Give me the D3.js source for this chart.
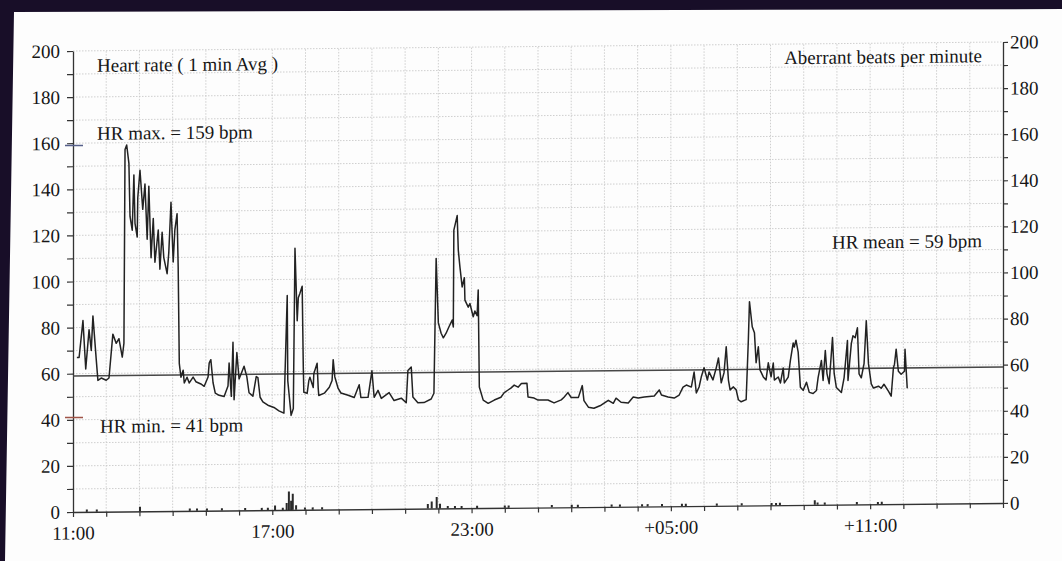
<!DOCTYPE html>
<html>
<head>
<meta charset="utf-8">
<script src="https://cdn.jsdelivr.net/npm/d3@7"></script>
<style>
  body { margin: 0; background: #fdfdfd; }
  svg { display: block; }
  text { font-family: "Liberation Serif", "Times New Roman", serif; fill: #161616; }
</style>
</head>
<body>
<svg id="chart" width="1062" height="561"></svg>
<script>
// Heart rate, 1-minute averages: minutes after 11:00 and bpm
const hrMinutes = [
  7, 11, 18, 23, 29, 33, 36, 42, 45, 51,
  60, 65, 72, 78, 83, 89, 92, 94, 97, 101,
  103, 107, 110, 112, 116, 117, 121, 126, 130, 134,
  137, 141, 145, 148, 154, 157, 161, 164, 170, 173,
  177, 181, 184, 188, 190, 192, 195, 199, 201, 206,
  210, 217, 222, 231, 237, 244, 246, 249, 253, 257,
  264, 273, 280, 282, 286, 289, 291, 296, 300, 305,
  309, 314, 318, 325, 331, 334, 338, 343, 352, 363,
  372, 381, 387, 388, 394, 398, 401, 405, 407, 410,
  414, 416, 417, 423, 426, 428, 434, 435, 441, 443,
  444, 454, 463, 468, 470, 473, 479, 484, 497, 508,
  517, 520, 533, 540, 544, 551, 557, 571, 580, 593,
  602, 605, 611, 614, 623, 634, 647, 652, 656, 660,
  665, 669, 674, 679, 685, 687, 688, 694, 696, 699,
  703, 707, 708, 714, 717, 723, 726, 730, 732, 734,
  741, 750, 761, 773, 779, 786, 791, 797, 804, 810,
  820, 822, 833, 840, 858, 869, 882, 887, 894, 900,
  913, 920, 923, 931, 941, 954, 967, 976, 981, 990,
  1003, 1012, 1021, 1032, 1050, 1059, 1063, 1075, 1086, 1095,
  1102, 1108, 1117, 1122, 1126, 1131, 1135, 1140, 1146, 1149,
  1156, 1162, 1166, 1171, 1176, 1180, 1184, 1187, 1193, 1198,
  1202, 1207, 1216, 1220, 1222, 1227, 1231, 1234, 1238, 1241,
  1247, 1252, 1256, 1261, 1265, 1267, 1274, 1278, 1283, 1285,
  1292, 1296, 1301, 1303, 1306, 1310, 1314, 1319, 1325, 1330,
  1337, 1343, 1346, 1352, 1355, 1359, 1362, 1366, 1372, 1375,
  1379, 1388, 1393, 1399, 1400, 1406, 1409, 1413, 1417, 1420,
  1424, 1429, 1433, 1437, 1442, 1446, 1455, 1460, 1465, 1473,
  1478, 1482, 1484, 1487, 1491, 1496, 1502, 1503, 1507
];
const hrValues = [
  67, 67, 83, 62, 79, 70, 85, 66, 57, 58,
  57, 58, 77, 73, 75, 67, 73, 157, 159, 151,
  128, 122, 146, 125, 119, 136, 148, 131, 142, 118,
  141, 110, 127, 108, 122, 105, 121, 110, 103, 112,
  134, 108, 122, 129, 106, 64, 58, 61, 55.5, 58,
  55.5, 58, 56, 55, 54, 58, 64, 65.5, 55.5, 51,
  50, 49.5, 54, 64, 49.5, 73, 48, 68.5, 57, 60,
  62.5, 58, 51, 49.5, 58, 57.5, 49, 47, 45.5, 44.5,
  43, 42, 93, 56, 41, 44, 113.5, 82, 92, 94,
  97, 62, 51, 50.5, 56, 57.5, 53, 59, 63.5, 52.5,
  49.5, 50.5, 53, 56, 65, 57.5, 52.5, 50.5, 49.5, 48.5,
  54, 48.5, 48.5, 60, 48.5, 51.5, 48, 50.5, 47, 48,
  46, 60, 61.5, 48.5, 46, 46, 47.5, 50, 108.5, 80.5,
  76, 74, 76, 78.7, 81.7, 78.7, 120.7, 127, 112, 104.6,
  96, 100, 90.3, 87.2, 88.8, 83, 85.5, 83.5, 94.6, 52.5,
  46.8, 45.4, 46.8, 48, 50, 51.1, 51.9, 53.2, 52.3, 53.9,
  54, 48, 47.5, 46.6, 46.6, 45.3, 46.6, 47.7, 49.7, 47.6,
  47.6, 52.7, 46.2, 43.3, 42.8, 44.1, 46.2, 44.9, 47.1, 45.3,
  45, 47.5, 47.1, 47.5, 47.9, 50.5, 48.3, 47.4, 46.9, 48.2,
  51.6, 52.5, 51.6, 58.1, 49, 51.6, 56, 59.9, 54.6, 58.1,
  54.6, 59.8, 64.1, 53.3, 57.6, 68.9, 54.5, 50.2, 51.5, 50.2,
  45.9, 45, 45.9, 71.9, 88.4, 77.5, 74.9, 61.9, 68.8, 58.8,
  55.7, 54.4, 61.8, 55.7, 61.7, 54.3, 55.6, 53, 59.5, 53,
  55.5, 62.9, 70.3, 68.5, 71.5, 66.3, 51.1, 49.7, 53.2, 48.8,
  48.3, 49.6, 55.2, 62.6, 53.9, 66.9, 56.9, 52.5, 72.5, 56.9,
  50.8, 48.6, 55.1, 71.1, 53.8, 69.8, 73.2, 72.3, 76.6, 56.6,
  54.9, 61, 79.6, 60.9, 52.2, 50.4, 51.2, 50.3, 52, 49,
  46.8, 59, 60.7, 67.2, 57.6, 56.3, 57.6, 67.1, 50.2
];

// Aberrant beats: minutes after 11:00 and beats in that minute
const abMinutes = [25, 43, 121, 211, 224, 242, 269, 311, 341, 352,
  365, 379, 386, 390, 394, 397, 403, 419, 433, 450,
  641, 648, 657, 663, 677, 690, 702, 730, 780, 787,
  865, 901, 912, 973, 988, 1028, 1038, 1064, 1100, 1107,
  1163, 1208, 1262, 1270, 1277, 1340, 1345, 1358, 1416, 1454, 1461];
const abCounts = [1, 1, 2, 1, 1, 1, 1, 1, 1, 1,
  2, 1, 3, 8, 4, 7, 2, 1, 1, 1,
  2, 3, 5, 2, 1, 1, 1, 1, 1, 1,
  1, 1, 1, 1, 1, 1, 1, 1, 1, 1,
  1, 1, 1, 1, 1, 2, 1, 1, 1, 1, 1];

// Summary statistics (bpm)
const hrMean = 59;
const hrMax = 159;
const hrMin = 41;

// Axis ticks
const yTickValues = d3.range(0, 201, 10);
const hourTicks = d3.range(0, 28 * 60 + 1, 60);
const timeLabelMinutes = [0, 360, 720, 1080, 1440];
const timeLabels = ["11:00", "17:00", "23:00", "+05:00", "+11:00"];

const svg = d3.select("#chart");
const W = 1062, H = 561;
const FONT = "'Liberation Serif', 'Times New Roman', serif";
const FS = 19;

const x = d3.scaleLinear().domain([0, 28 * 60]).range([73, 1003]);
const y = d3.scaleLinear().domain([0, 200]).range([512, 51]);

// paper background
svg.append("rect").attr("width", W).attr("height", H).attr("fill", "#fdfdfd");

// the sheet sits very slightly askew
const g = svg.append("g")
  .attr("transform", `translate(73,512) skewY(-0.555) translate(-73,-512)`);

// grid: fine dotted lines every 10 bpm and every hour
const grid = g.append("g")
  .attr("stroke", "#c9c9c9")
  .attr("stroke-width", 0.9)
  .attr("stroke-dasharray", "1.5,1.5");
grid.selectAll("line.h")
  .data(yTickValues.filter(v => v > 0))
  .join("line")
  .attr("class", "h")
  .attr("x1", x(0)).attr("x2", x(1680))
  .attr("y1", d => y(d)).attr("y2", d => y(d));
grid.selectAll("line.v")
  .data(hourTicks.filter(t => t > 0 && t < 1680))
  .join("line")
  .attr("class", "v")
  .attr("x1", d => x(d)).attr("x2", d => x(d))
  .attr("y1", y(0)).attr("y2", y(200));

// axes
const styleAxis = sel => {
  sel.selectAll("path.domain").attr("stroke", "#333").attr("stroke-width", 1.3);
  sel.selectAll(".tick line").attr("stroke", "#333").attr("stroke-width", 1.2);
  sel.selectAll(".tick text")
    .attr("font-family", FONT)
    .attr("font-size", FS).attr("fill", "#161616");
};

g.append("g")
  .attr("transform", `translate(${x(0)},0)`)
  .call(d3.axisLeft(y).tickValues(yTickValues).tickSizeInner(6).tickSizeOuter(0).tickPadding(7)
    .tickFormat(d => d % 20 === 0 ? d : ""))
  .call(styleAxis);

g.append("g")
  .attr("transform", `translate(${x(1680)},0)`)
  .call(d3.axisRight(y).tickValues(yTickValues).tickSizeInner(5).tickSizeOuter(0).tickPadding(2)
    .tickFormat(d => d % 20 === 0 ? d : ""))
  .call(styleAxis);

g.append("g")
  .attr("transform", `translate(0,${y(0)})`)
  .call(d3.axisBottom(x).tickValues(hourTicks).tickSizeInner(5).tickSizeOuter(0).tickPadding(9)
    .tickFormat(d => {
      const i = timeLabelMinutes.indexOf(d);
      return i >= 0 ? timeLabels[i] : "";
    }))
  .call(styleAxis);

// max / min markers on the left axis
g.append("line")
  .attr("x1", x(0) - 8).attr("x2", x(0) + 10)
  .attr("y1", y(hrMax)).attr("y2", y(hrMax))
  .attr("stroke", "#56608a").attr("stroke-width", 1.5);
g.append("line")
  .attr("x1", x(0) - 8).attr("x2", x(0) + 10)
  .attr("y1", y(hrMin)).attr("y2", y(hrMin))
  .attr("stroke", "#a05448").attr("stroke-width", 1.5);

// mean line
g.append("line")
  .attr("x1", x(0)).attr("x2", x(1680))
  .attr("y1", y(hrMean)).attr("y2", y(hrMean))
  .attr("stroke", "#474747").attr("stroke-width", 1.6);

// aberrant beats along the baseline
g.append("g")
  .selectAll("line")
  .data(abMinutes.map((t, i) => ({ t, v: abCounts[i] })))
  .join("line")
  .attr("x1", d => x(d.t)).attr("x2", d => x(d.t))
  .attr("y1", y(0)).attr("y2", d => y(d.v))
  .attr("stroke", "#2a2a2a").attr("stroke-width", 2);

// heart rate trend
const hrSeries = hrMinutes.map((t, i) => ({ t, v: hrValues[i] }));
g.append("path")
  .datum(hrSeries)
  .attr("fill", "none")
  .attr("stroke", "#222")
  .attr("stroke-width", 1.5)
  .attr("stroke-linejoin", "round")
  .attr("d", d3.line().x(d => x(d.t)).y(d => y(d.v)));

// annotations
const note = (tx, ty, str, anchor) =>
  g.append("text").attr("x", tx).attr("y", ty)
    .attr("font-size", FS).attr("text-anchor", anchor || "start").text(str);

note(97, 72, "Heart rate ( 1 min Avg )");
note(97, 140, `HR max. = ${hrMax} bpm`);
note(100, 433, `HR min. = ${hrMin} bpm`);
note(982, 71, "Aberrant beats per minute", "end");
note(982, 256, `HR mean = ${hrMean} bpm`, "end");

// dark scanner margin at the top and left edges
svg.append("polygon")
  .attr("points", "0,0 1062,0 1062,9 14,12 5,561 0,561")
  .attr("fill", "#180e28");
</script>
</body>
</html>
